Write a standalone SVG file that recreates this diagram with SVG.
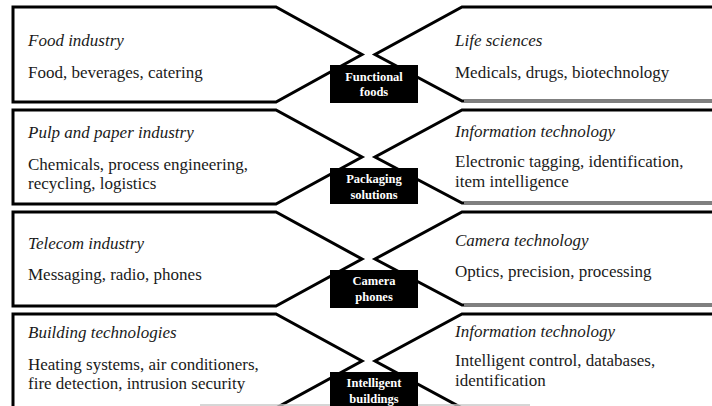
<svg xmlns="http://www.w3.org/2000/svg" width="712" height="406" viewBox="0 0 712 406">
  <style>
    .shape { fill: #ffffff; stroke: #000000; stroke-width: 3; stroke-linejoin: miter; }
    .split { stroke: #ffffff; stroke-width: 1; }
    .head { font-family: "Liberation Serif", "Times New Roman", serif; font-size: 17px; font-style: italic; fill: #1a1a1a; }
    .body { font-family: "Liberation Serif", "Times New Roman", serif; font-size: 17px; fill: #1a1a1a; }
    .tag { fill: #000000; }
    .tagtext { font-family: "Liberation Serif", "Times New Roman", serif; font-size: 12.5px; font-weight: bold; fill: #ffffff; text-anchor: middle; }
  </style>
  <rect width="712" height="406" fill="#ffffff"/>

  <!-- Row 1 -->
  <g id="food-industry">
    <polygon class="shape" points="13,7 276,7 362,54.5 276,102 13,102"/>
    <text class="head" x="28" y="46">Food industry</text>
    <text class="body" x="28" y="78">Food, beverages, catering</text>
  </g>
  <g id="life-sciences">
    <polygon class="shape" points="720,7 462,7 375,54.5 462,101 720,101"/>
    <line class="split" x1="464" y1="101" x2="712" y2="101"/>
    <text class="head" x="455" y="46">Life sciences</text>
    <text class="body" x="455" y="78">Medicals, drugs, biotechnology</text>
  </g>

  <!-- Row 2 -->
  <g id="pulp-paper">
    <polygon class="shape" points="13,110 276,110 362,157 276,204 13,204"/>
    <text class="head" x="28" y="138">Pulp and paper industry</text>
    <text class="body" x="28" y="170">Chemicals, process engineering,</text>
    <text class="body" x="28" y="189">recycling, logistics</text>
  </g>
  <g id="information-technology-1">
    <polygon class="shape" points="720,110 462,110 375,157 462,203 720,203"/>
    <line class="split" x1="464" y1="203" x2="712" y2="203"/>
    <text class="head" x="455" y="137">Information technology</text>
    <text class="body" x="455" y="167">Electronic tagging, identification,</text>
    <text class="body" x="455" y="187">item intelligence</text>
  </g>

  <!-- Row 3 -->
  <g id="telecom">
    <polygon class="shape" points="13,212 276,212 362,259 276,306 13,306"/>
    <text class="head" x="28" y="249">Telecom industry</text>
    <text class="body" x="28" y="280">Messaging, radio, phones</text>
  </g>
  <g id="camera-technology">
    <polygon class="shape" points="720,212 462,212 375,259 462,305 720,305"/>
    <line class="split" x1="464" y1="305" x2="712" y2="305"/>
    <text class="head" x="455" y="246">Camera technology</text>
    <text class="body" x="455" y="277">Optics, precision, processing</text>
  </g>

  <!-- Row 4 -->
  <g id="building-technologies">
    <polygon class="shape" points="13,314 276,314 362,361 276,408 13,408"/>
    <text class="head" x="28" y="338">Building technologies</text>
    <text class="body" x="28" y="370">Heating systems, air conditioners,</text>
    <text class="body" x="28" y="389">fire detection, intrusion security</text>
  </g>
  <g id="information-technology-2">
    <polygon class="shape" points="720,314 462,314 375,361 462,408 720,408"/>
    <text class="head" x="455" y="337">Information technology</text>
    <text class="body" x="455" y="366">Intelligent control, databases,</text>
    <text class="body" x="455" y="386">identification</text>
  </g>

  <!-- faint rule along the bottom edge -->
  <line x1="200" y1="405" x2="530" y2="405" stroke="#c8c8c8" stroke-width="1.5"/>

  <!-- Combined-field labels -->
  <g id="functional-foods">
    <rect class="tag" x="330" y="65" width="88" height="38"/>
    <text class="tagtext" x="374" y="81">Functional</text>
    <text class="tagtext" x="374" y="96">foods</text>
  </g>
  <g id="packaging-solutions">
    <rect class="tag" x="330" y="168" width="88" height="36"/>
    <text class="tagtext" x="374" y="183">Packaging</text>
    <text class="tagtext" x="374" y="199">solutions</text>
  </g>
  <g id="camera-phones">
    <rect class="tag" x="330" y="270" width="88" height="38"/>
    <text class="tagtext" x="374" y="285">Camera</text>
    <text class="tagtext" x="374" y="301">phones</text>
  </g>
  <g id="intelligent-buildings">
    <rect class="tag" x="330" y="372" width="88" height="38"/>
    <text class="tagtext" x="374" y="387">Intelligent</text>
    <text class="tagtext" x="374" y="403">buildings</text>
  </g>
</svg>
